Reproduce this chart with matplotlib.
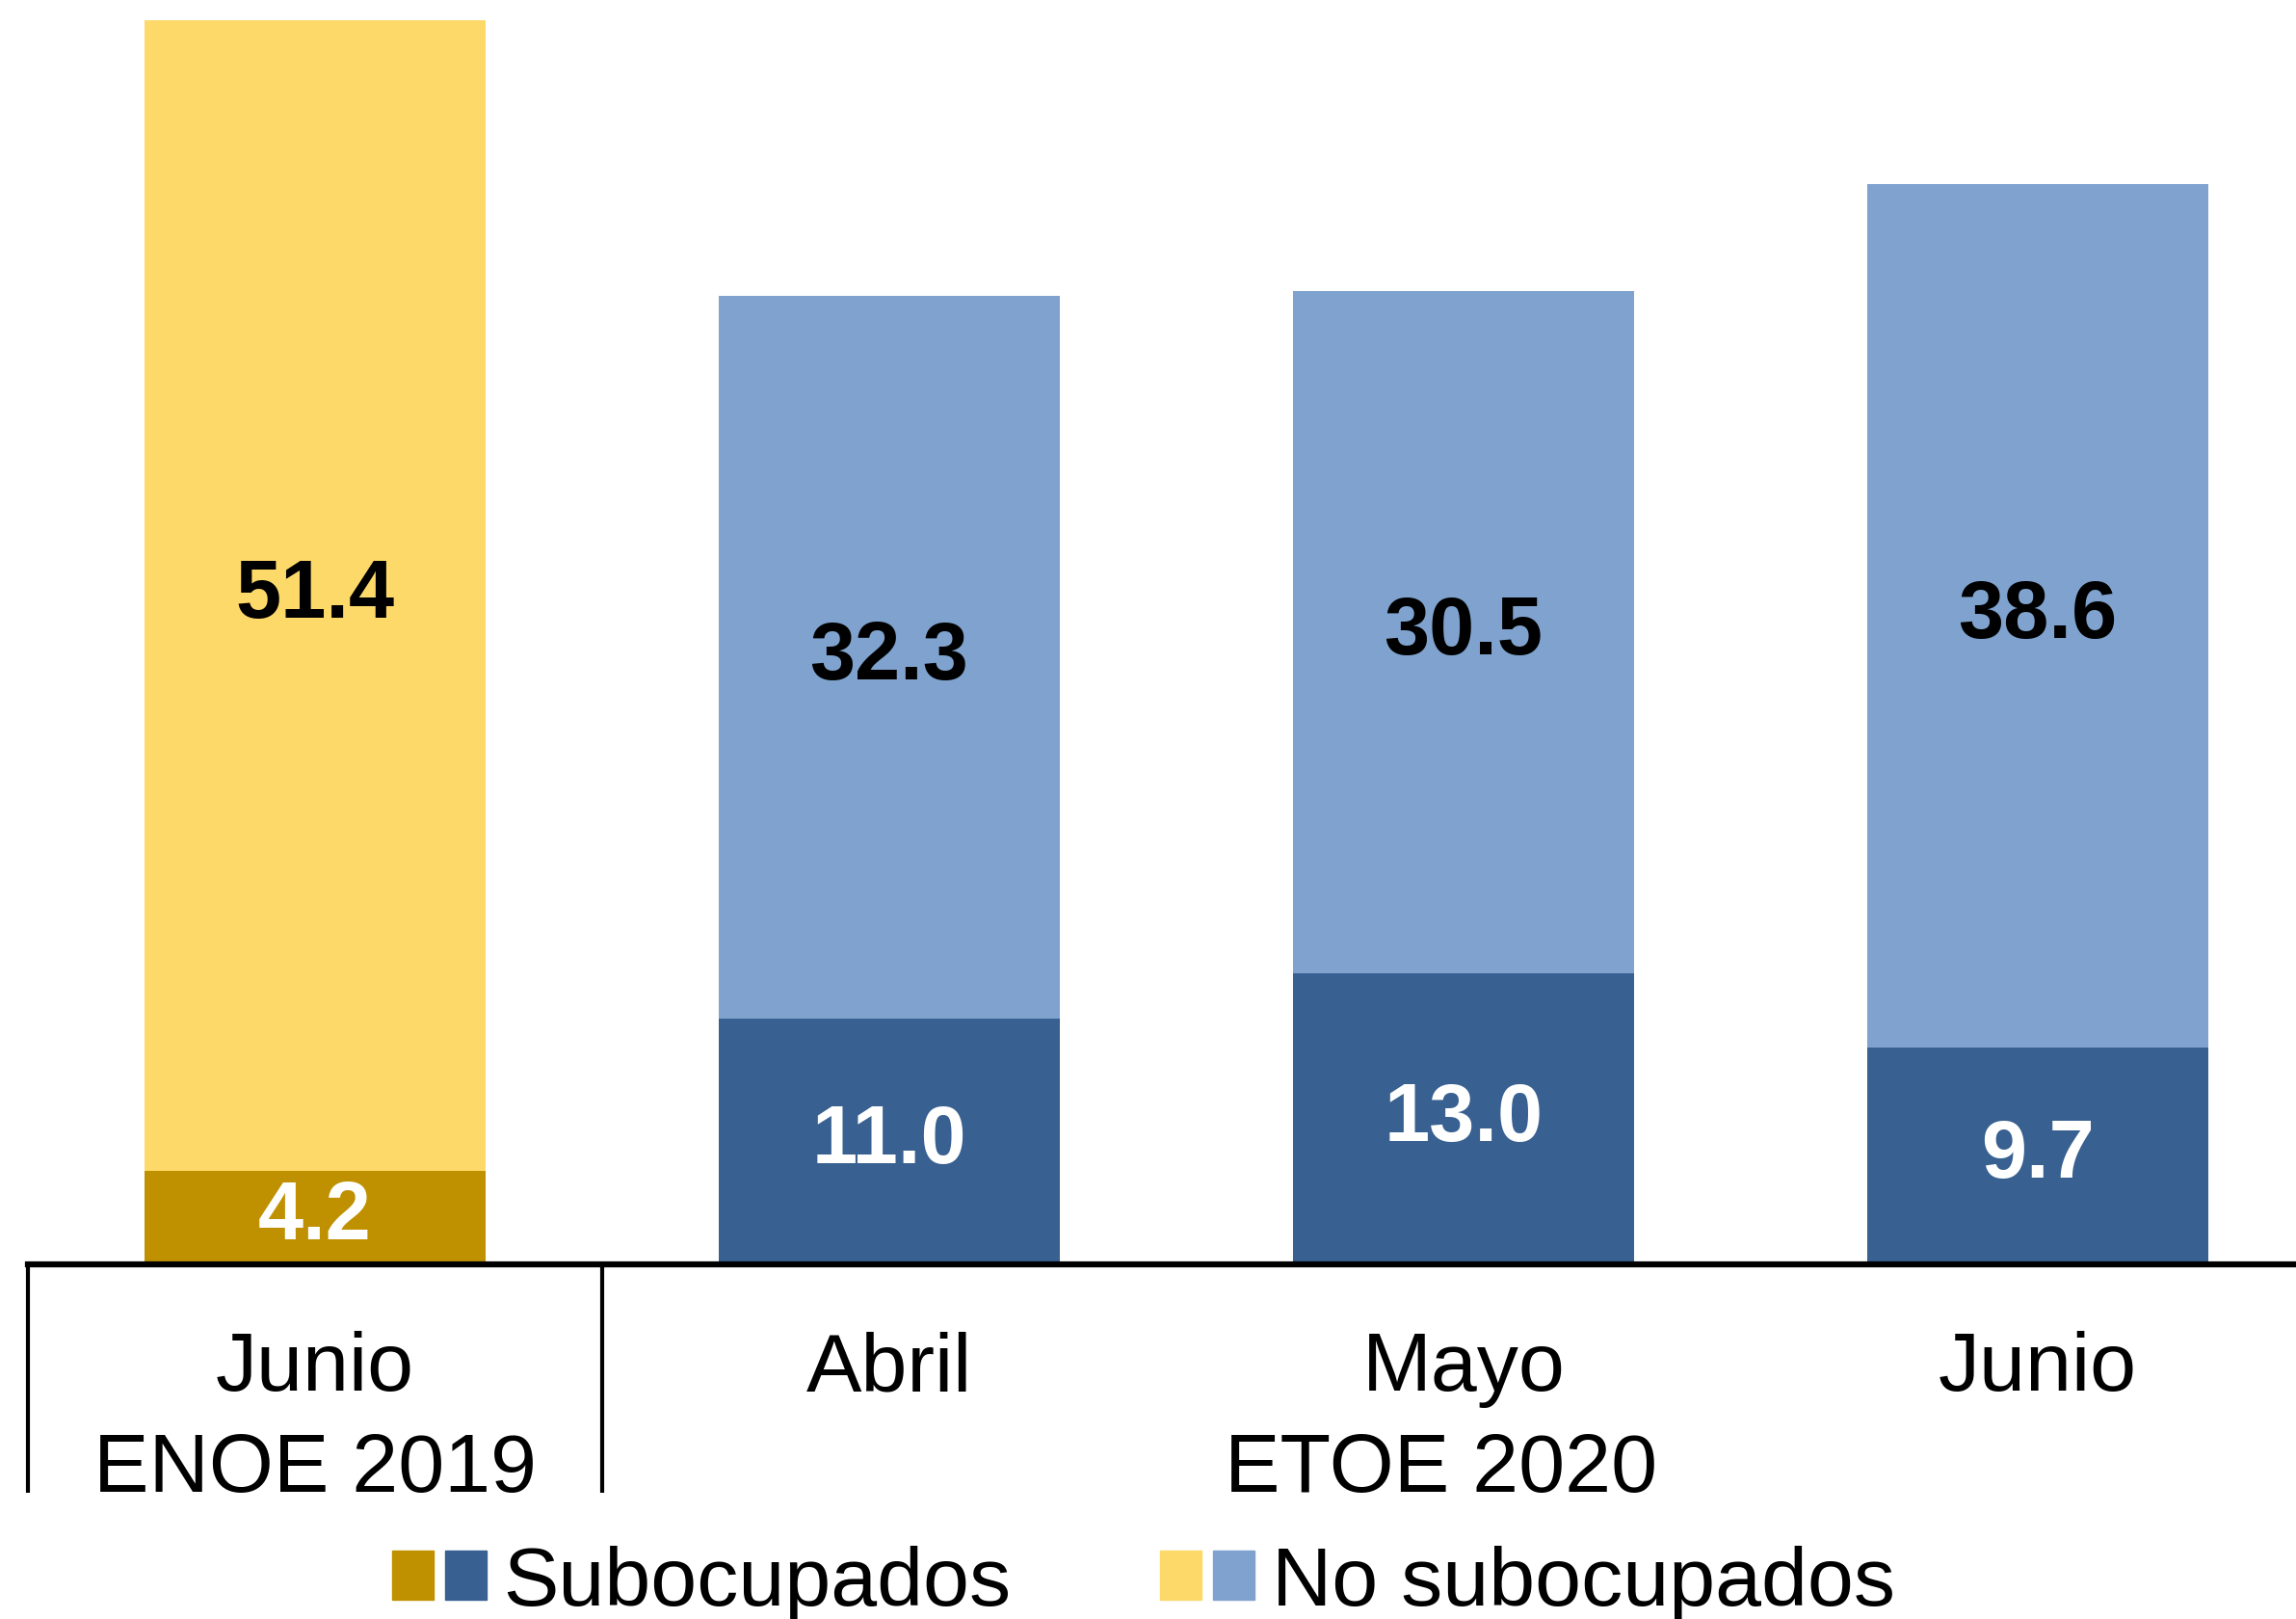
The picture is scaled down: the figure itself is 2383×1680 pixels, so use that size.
"""
Subocupados vs. no subocupados: ENOE 2019 (junio) y ETOE 2020 (abril-junio).
"""

import numpy as np
from matplotlib import pyplot as plt
from matplotlib import transforms
from matplotlib.patches import Patch
from matplotlib.legend_handler import HandlerTuple

plt.rcParams['font.family'] = ['Liberation Sans', 'DejaVu Sans']

# data
meses = ['Junio', 'Abril', 'Mayo', 'Junio']
subocupados = [4.2, 11.0, 13.0, 9.7]
no_subocupados = [51.4, 32.3, 30.5, 38.6]
encuestas = ['ENOE 2019', 'ETOE 2020']
encuesta_x = [0, 1.96]
separadores = [-0.5, 0.5]

color_sub = ['#BF9000', '#386090', '#386090', '#386090']
color_nosub = ['#FDD96A', '#7FA3CE', '#7FA3CE', '#7FA3CE']


def main():
    fig = plt.figure(figsize=(23.83, 16.81), dpi=100)
    ax = fig.add_axes([0.0122, 0.2189, 1 - 0.0122, 1 - 0.2189])

    x = np.arange(len(meses))
    width = 0.595

    bars_sub = ax.bar(x, subocupados, width=width, color=color_sub)
    bars_nosub = ax.bar(x, no_subocupados, width=width, bottom=subocupados, color=color_nosub)

    ax.bar_label(bars_sub, labels=['%.1f' % v for v in subocupados], label_type='center',
                 color='white', fontsize=61, fontweight='bold')
    ax.bar_label(bars_nosub, labels=['%.1f' % v for v in no_subocupados], label_type='center',
                 color='black', fontsize=61, fontweight='bold')

    ax.set_xlim(-0.5, 3.45)
    ax.set_ylim(0, 56.55)

    for side in ['left', 'right', 'top']:
        ax.spines[side].set_visible(False)
    ax.spines['bottom'].set_linewidth(4.5)
    ax.set_xticks([])
    ax.set_yticks([])

    trans = transforms.blended_transform_factory(ax.transData, ax.transAxes)

    # etiquetas de meses y encuestas
    for xi, mes in zip(x, meses):
        ax.text(xi, -0.099, mes, transform=trans, ha='center', va='baseline', fontsize=62)
    for xi, enc in zip(encuesta_x, encuestas):
        ax.text(xi, -0.179, enc, transform=trans, ha='center', va='baseline', fontsize=62)

    for xs in separadores:
        ax.plot([xs, xs], [0, -0.1805], transform=trans, color='black', linewidth=3,
                clip_on=False, solid_capstyle='butt')

    handles = [
        (Patch(color=color_sub[0]), Patch(color=color_sub[1])),
        (Patch(color=color_nosub[0]), Patch(color=color_nosub[1])),
    ]
    fig.legend(handles, ['Subocupados', 'No subocupados'],
               handler_map={tuple: HandlerTuple(ndivide=None, pad=0.14)},
               loc='center', bbox_to_anchor=(0.498, 0.022), ncol=2, frameon=False,
               fontsize=62, handlelength=1.14, handleheight=0.53,
               handletextpad=0.2, columnspacing=1.8, borderpad=0, borderaxespad=0)

    fig.savefig('out.png', dpi=100)


if __name__ == '__main__':
    main()
